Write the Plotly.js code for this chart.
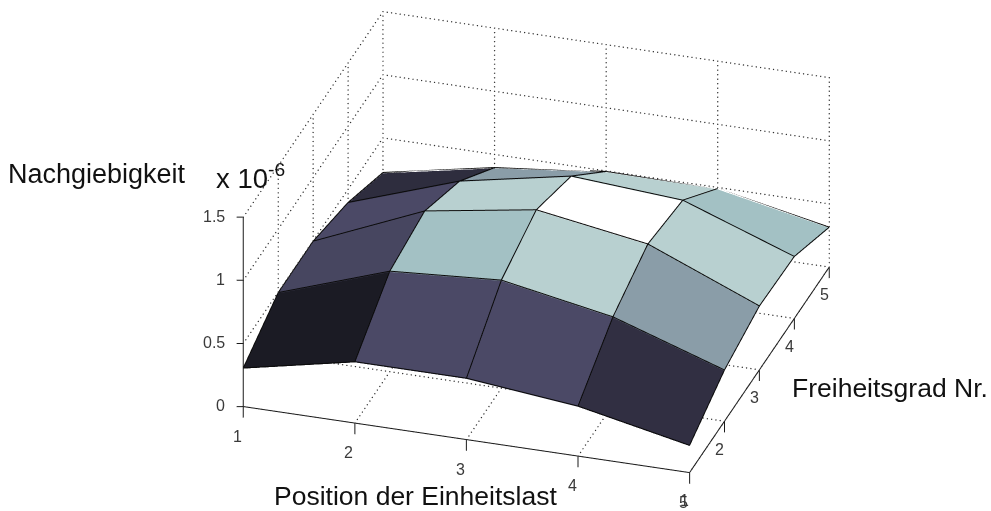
<!DOCTYPE html>
<html><head><meta charset="utf-8">
<script src="https://cdn.plot.ly/plotly-3.0.1.min.js"></script>
<style>html,body{margin:0;padding:0;background:#fff;overflow:hidden}#c{width:991px;height:511px}</style>
</head><body><div id="c"></div>
<script>
const xVals=[1,2,3,4,5];
const yVals=[1,2,3,4,5];
const zRow1=[0.30,0.48,0.48,0.39,0.21];
const zRow2=[0.49,0.79,0.85,0.69,0.40];
const zRow3=[0.49,0.86,1.00,0.86,0.50];
const zRow4=[0.39,0.69,0.86,0.80,0.485];
const zRow5=[0.22,0.39,0.49,0.485,0.31];
const colorRow1=['#1b1b24','#4b4966','#4b4966','#312f42'];
const colorRow2=['#474660','#a3c1c4','#b8d0d0','#8a9da8'];
const colorRow3=['#4b4966','#b8d0d0','#ffffff','#b8d0d0'];
const colorRow4=['#2e2d3e','#8a9da8','#b8d0d0','#a3c1c4'];
const zTicks=[0,0.5,1,1.5];
const zTickLabels=['0','0.5','1','1.5'];
const xTickLabels=['1','2','3','4','5'];
const yTickLabels=['1','2','3','4','5'];

const Z=[zRow1,zRow2,zRow3,zRow4,zRow5];
const C=[colorRow1,colorRow2,colorRow3,colorRow4];
const x0=1,x1=5,y0=1,y1=5,z0=0,z1=1.5;

const mx=[],my=[],mz=[],I=[],J=[],K=[],fc=[];
yVals.forEach((y,r)=>xVals.forEach((x,c)=>{mx.push(x);my.push(y);mz.push(Z[r][c]);}));
for(let r=0;r<4;r++)for(let c=0;c<4;c++){
  const a=r*5+c,b=a+1,d=a+5,e=d+1;
  I.push(a,a);J.push(b,e);K.push(e,d);fc.push(C[r][c],C[r][c]);
}
const mesh={type:'mesh3d',x:mx,y:my,z:mz,i:I,j:J,k:K,facecolor:fc,flatshading:true,
  lighting:{ambient:1,diffuse:0,specular:0,roughness:1,fresnel:0},hoverinfo:'skip',showscale:false};

function segs(list){const o={x:[],y:[],z:[]};list.forEach(s=>{s.forEach(p=>{o.x.push(p[0]);o.y.push(p[1]);o.z.push(p[2]);});o.x.push(null);o.y.push(null);o.z.push(null);});return o;}
function line(list,color,width){const s=segs(list);return Object.assign({type:'scatter3d',mode:'lines',hoverinfo:'skip',showlegend:false,line:{color,width}},s);}

const lift=0.006;
const edges=[];
yVals.forEach((y,r)=>edges.push(xVals.map((x,c)=>[x,y,Z[r][c]+lift])));
xVals.forEach((x,c)=>edges.push(yVals.map((y,r)=>[x,y,Z[r][c]+lift])));

const grid=[];
xVals.forEach(x=>{ if(x>x0) grid.push([[x,y0,z0],[x,y1,z0],56]); grid.push([[x,y1,z0],[x,y1,z1],42]); });
yVals.forEach(y=>{ if(y>y0) {grid.push([[x0,y,z0],[x1,y,z0],104]); grid.push([[x0,y,z0],[x0,y,z1],42]);} });
zTicks.forEach(z=>{ if(z>z0){grid.push([[x0,y0,z],[x0,y1,z],56]);} grid.push([[x0,y1,z],[x1,y1,z],104]); });
const dots={x:[],y:[],z:[]};
grid.forEach(g=>{for(let t=0;t<=g[2];t++){const f=t/g[2];dots.x.push(g[0][0]+(g[1][0]-g[0][0])*f);dots.y.push(g[0][1]+(g[1][1]-g[0][1])*f);dots.z.push(g[0][2]+(g[1][2]-g[0][2])*f);}});
const gridTrace=Object.assign({type:'scatter3d',mode:'markers',hoverinfo:'skip',showlegend:false,marker:{size:0.8,color:'#333',line:{width:0}}},dots);

const axes=[[[x0,y0,z0],[x1,y0,z0]],[[x1,y0,z0],[x1,y1,z0]],[[x0,y0,z0],[x0,y0,z1]]];
const tickDown=0.088,tickLeft=0.06;
xVals.forEach(x=>axes.push([[x,y0,z0],[x,y0,z0-tickDown]]));
yVals.forEach(y=>axes.push([[x1,y,z0],[x1,y,z0-tickDown]]));
zTicks.forEach(z=>axes.push([[x0,y0,z],[x0-tickLeft,y0,z-0.008]]));

const tf={family:'Liberation Sans, Arial, sans-serif',size:16,color:'#3a3a3a'};
const sceneAnn=[];
xVals.forEach((x,i)=>sceneAnn.push({x,y:y0,z:z0,text:xTickLabels[i],showarrow:false,font:tf,xshift:-6,yshift:-30}));
yVals.forEach((y,i)=>sceneAnn.push({x:x1,y,z:z0,text:yTickLabels[i],showarrow:false,font:tf,xshift:-5,yshift:-28}));
zTicks.forEach((z,i)=>sceneAnn.push({x:x0,y:y0,z,text:zTickLabels[i],showarrow:false,font:tf,xanchor:'right',xshift:-16,yshift:1}));

const hid={visible:false,showspikes:false};
const bigF={family:'Liberation Sans, Arial, sans-serif',size:26.5,color:'#111'};
function note(text,px,py,anchor,size){const f=Object.assign({},bigF);if(size)f.size=size;return {xref:'paper',yref:'paper',x:px/991,y:1-py/511,text,showarrow:false,font:f,xanchor:anchor||'left',yanchor:'middle'};}

const s=1.935;
const layout={width:991,height:511,margin:{l:0,r:0,t:0,b:0},paper_bgcolor:'#fff',showlegend:false,
  scene:{domain:{x:[76/991,1],y:[15.2/511,1]},bgcolor:'#fff',dragmode:false,
    aspectmode:'manual',aspectratio:{x:1.0122*s,y:0.963*s,z:0.476*s},
    camera:{projection:{type:'orthographic'},center:{x:0,y:0,z:0},up:{x:0,y:0,z:1},eye:{x:0.267,y:-0.842,z:0.466}},
    xaxis:Object.assign({range:[0.9,5.05]},hid),yaxis:Object.assign({range:[1,5]},hid),zaxis:Object.assign({range:[-0.1,1.5]},hid),
    annotations:sceneAnn},
  annotations:[
    note('Nachgiebigkeit',6,174,'left',27),
    note('x 10<sup>-6</sup>',214,176,'left',27.5),
    note('Position der Einheitslast',272,496),
    note('Freiheitsgrad Nr.',790,388)
  ]};
Plotly.newPlot('c',[mesh,line(edges,'#0a0a0a',2),gridTrace,line(axes,'#1a1a1a',2)],layout,{displayModeBar:false,responsive:false});
</script></body></html>
